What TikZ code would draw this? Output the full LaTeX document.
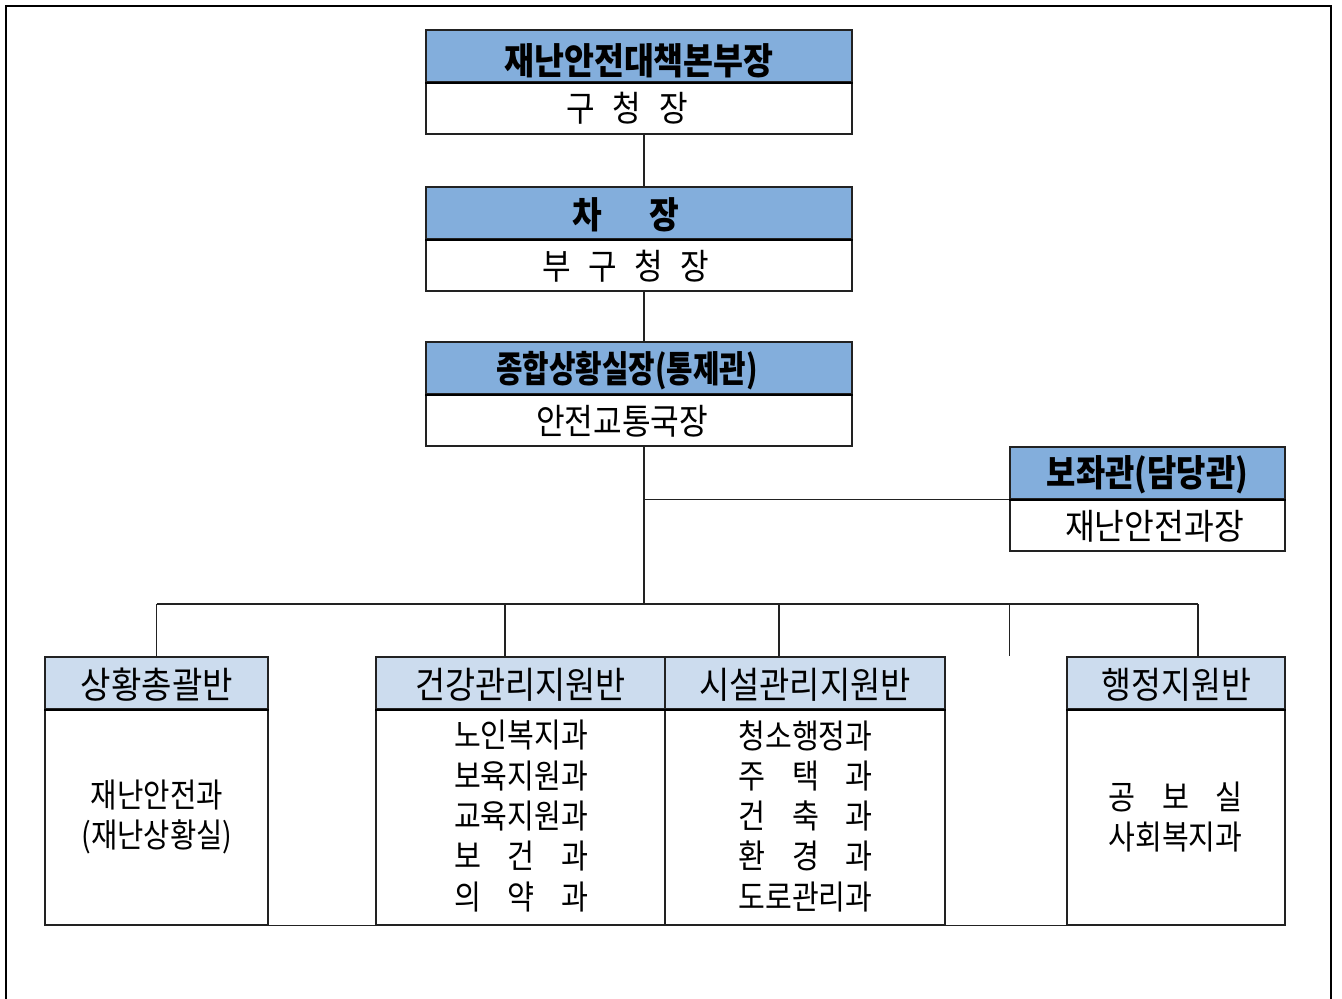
\documentclass[tikz,border=0pt]{standalone}
\usepackage{fontspec}
\usepackage{graphicx}
\usetikzlibrary{fit}
\newfontfamily\kr[FakeStretch=0.88]{Noto Sans CJK KR}
\definecolor{hdrdark}{HTML}{83AEDC}
\definecolor{hdrlight}{HTML}{CCDCEE}
\definecolor{linecol}{HTML}{222222}
\newcommand\tw[2]{\resizebox{#1}{\height}{#2}}
\newcommand\sw[2]{\makebox[#1][s]{#2}}
\tikzset{
  box/.style={draw=linecol, line width=1.1pt, inner sep=0pt},
  hdA/.style={box, fill=hdrdark},
  hdB/.style={box, fill=hdrlight},
  bd/.style={box, fill=white},
  divider/.style={draw=black, line width=1.8pt},
  link/.style={draw=linecol, line width=0.9pt},
  frame/.style={draw=black, line width=1.9pt},
  tbold/.style={font=\kr\bfseries\fontsize{27.5}{30}\selectfont, inner sep=0pt},
  treg/.style={font=\kr\fontsize{26.5}{30}\selectfont, inner sep=0pt},
  tlow/.style={font=\kr\fontsize{27.5}{30}\selectfont, inner sep=0pt},
  tlist/.style={font=\kr\fontsize{25}{30.2}\selectfont, align=center, inner sep=0pt},
  tlist2/.style={font=\kr\fontsize{25}{29.3}\selectfont, align=center, inner sep=0pt},
}
\begin{document}
\begin{tikzpicture}[x=0.75pt,y=-0.75pt]
\useasboundingbox (0,0) rectangle (1342,999);
\draw[frame] (6,999) -- (6,6) -- (1331,6) -- (1331,999);

% --- top chain ---
\node[hdA, fit={(426,30) (852,82)}] (Ah) {};
\node[bd,  fit={(426,82) (852,134)}] (Ab) {};
\draw[divider] (Ah.south west) -- (Ah.south east);
\node[tbold] (Aht) at (639,61) {\tw{202pt}{재난안전대책본부장}};
\node[treg]  (Abt) at (627,108) {\sw{91.5pt}{구 청 장}};

\node[hdA, fit={(426,187) (852,239)}] (Bh) {};
\node[bd,  fit={(426,239) (852,291)}] (Bb) {};
\draw[divider] (Bh.south west) -- (Bh.south east);
\node[tbold] (Bht) at (625.5,215) {\sw{80pt}{차 장}};
\node[treg]  (Bbt) at (625.5,266) {\sw{125pt}{부 구 청 장}};

\node[hdA, fit={(426,342) (852,394)}] (Ch) {};
\node[bd,  fit={(426,394) (852,446)}] (Cb) {};
\draw[divider] (Ch.south west) -- (Ch.south east);
\node[tbold] (Cht) at (627,371) {\tw{196pt}{종합상황실장(통제관)}};
\node[treg]  (Cbt) at (622,421) {\tw{129pt}{안전교통국장}};

% --- side box ---
\node[hdA, fit={(1010,447) (1285,499)}] (Dh) {};
\node[bd,  fit={(1010,499) (1285,551)}] (Db) {};
\draw[divider] (Dh.south west) -- (Dh.south east);
\node[tbold] (Dht) at (1147.5,475) {\tw{151pt}{보좌관(담당관)}};
\node[treg]  (Dbt) at (1154.5,526) {\tw{134pt}{재난안전과장}};

% --- bottom table ---
\node[hdB, fit={(45,657) (268,709)}] (H1) {};
\node[bd,  fit={(45,709) (268,925)}] (B1) {};
\node[hdB, fit={(376,657) (665,709)}] (H2) {};
\node[bd,  fit={(376,709) (665,925)}] (B2) {};
\node[hdB, fit={(665,657) (945,709)}] (H3) {};
\node[bd,  fit={(665,709) (945,925)}] (B3) {};
\node[hdB, fit={(1067,657) (1285,709)}] (H4) {};
\node[bd,  fit={(1067,709) (1285,925)}] (B4) {};
\draw[box] (B1.south west) -- (B4.south east);
\foreach \n in {1,2,3,4}{\draw[divider] (H\n.south west) -- (H\n.south east);}

\node[tlow] (H1t) at (157,685) {\tw{114pt}{상황총괄반}};
\node[tlow] (H2t) at (520.5,685) {\tw{158pt}{건강관리지원반}};
\node[tlow] (H3t) at (805,685) {\tw{159pt}{시설관리지원반}};
\node[tlow] (H4t) at (1176.5,685) {\tw{112pt}{행정지원반}};

\node[tlist2] (B1t) at (157,817) {\tw{99pt}{재난안전과}\\\tw{113pt}{(재난상황실)}};
\node[tlist] (B2t) at (521,816) {\tw{100.5pt}{노인복지과}\\\tw{100.5pt}{보육지원과}\\\tw{100.5pt}{교육지원과}\\\sw{100.5pt}{보 건 과}\\\sw{100.5pt}{의 약 과}};
\node[tlist] (B3t) at (805.5,816) {\tw{100.5pt}{청소행정과}\\\sw{100.5pt}{주 택 과}\\\sw{100.5pt}{건 축 과}\\\sw{100.5pt}{환 경 과}\\\tw{100.5pt}{도로관리과}};
\node[tlist2] (B4t) at (1175.5,817) {\sw{100.5pt}{공 보 실}\\\tw{100.5pt}{사회복지과}};

% --- connectors ---
\coordinate (sp) at (644,0);
\coordinate (busL) at (156.5,604);
\coordinate (busR) at (1198,604);
\coordinate (d2) at (505,604);
\coordinate (d3) at (779,604);
\coordinate (busM) at (sp |- busL);
\draw[link] (sp |- Ab.south) -- (sp |- Bh.north);
\draw[link] (sp |- Bb.south) -- (sp |- Ch.north);
\draw[link] (sp |- Cb.south) -- (busM);
\draw[link] (sp |- Dh.south) -- (Dh.south west);
\draw[link] (busL) -- (busR);
\draw[link] (busL) -- (H1.north);
\draw[link] (d2) -- (d2 |- H2.north);
\draw[link] (d3) -- (d3 |- H3.north);
\draw[link] (Dh.west |- busL) -- (Dh.west |- H4.north);
\draw[link] (busR) -- (busR |- H4.north);
\end{tikzpicture}
\end{document}
